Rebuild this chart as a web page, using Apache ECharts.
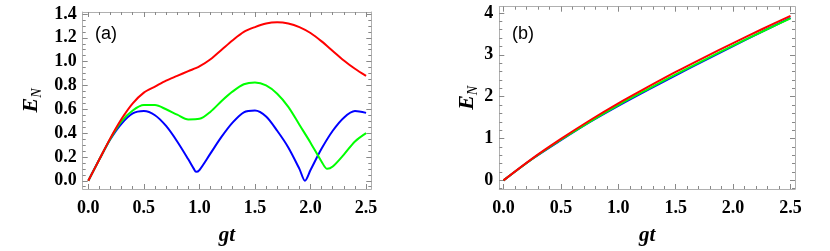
<!DOCTYPE html>
<html><head><meta charset="utf-8">
<script src="https://cdn.jsdelivr.net/npm/echarts@6/dist/echarts.min.js"></script>
<style>html,body{margin:0;padding:0;background:#fff}#c{width:830px;height:251px}</style>
</head><body><div id="c"></div>
<script>
// ---- data: panel (a) ----
const xBlueA = [0,0.1,0.2,0.3,0.4,0.5,0.6,0.7,0.8,0.9,0.95,0.97,1.0,1.1,1.2,1.3,1.4,1.5,1.6,1.7,1.8,1.9,1.95,2.0,2.1,2.2,2.3,2.4,2.5];
const yBlueA = [0,0.18,0.35,0.48,0.565,0.585,0.55,0.46,0.33,0.18,0.10,0.075,0.09,0.23,0.37,0.49,0.575,0.59,0.54,0.42,0.28,0.10,0.0,0.09,0.27,0.42,0.53,0.585,0.57];
const xGreenA = [0,0.1,0.2,0.3,0.4,0.5,0.6,0.7,0.8,0.9,1.0,1.1,1.2,1.3,1.4,1.5,1.6,1.7,1.8,1.9,2.0,2.1,2.15,2.2,2.3,2.4,2.5];
const yGreenA = [0,0.18,0.355,0.50,0.59,0.635,0.635,0.60,0.555,0.515,0.52,0.58,0.67,0.75,0.81,0.825,0.80,0.73,0.62,0.47,0.32,0.16,0.10,0.12,0.22,0.33,0.40];
const xRedA = [0,0.1,0.2,0.3,0.4,0.5,0.6,0.7,0.8,0.9,1.0,1.1,1.2,1.3,1.4,1.5,1.6,1.7,1.8,1.9,2.0,2.1,2.2,2.3,2.4,2.5];
const yRedA = [0,0.18,0.36,0.52,0.65,0.74,0.79,0.84,0.88,0.92,0.96,1.02,1.10,1.18,1.25,1.29,1.32,1.33,1.32,1.29,1.24,1.17,1.09,1.01,0.94,0.88];
// ---- data: panel (b) ----
const xB = [0,0.25,0.5,0.75,1.0,1.25,1.5,1.75,2.0,2.25,2.5];
const yBlueB = [0,0.51,0.96,1.39,1.78,2.15,2.51,2.86,3.21,3.55,3.88];
const yGreenB = [0,0.51,0.97,1.40,1.80,2.17,2.53,2.88,3.22,3.55,3.87];
const yRedB = [0,0.52,0.99,1.43,1.84,2.22,2.59,2.94,3.28,3.61,3.93];
// ---- tick labels ----
const xTickLabels = ['0.0','0.5','1.0','1.5','2.0','2.5'];
const yTickLabelsA = ['0.0','0.2','0.4','0.6','0.8','1.0','1.2','1.4'];
const yTickLabelsB = ['0','1','2','3','4'];

function range(a, b, s){ const r=[]; for(let v=a; v<=b+1e-9; v+=s) r.push(+v.toFixed(4)); return r; }
const pairs = (xs, ys) => xs.map((x,i)=>[x, ys[i]]);

const frameCol = '#b0b0b0', tickCol = '#888';
const labelFont = {fontFamily:'Liberation Serif', fontWeight:'bold', fontSize:18, color:'#000'};

function axesFor(kind, grid, min, max, majorVals, minorVals, labels, opts){
  const isX = kind === 'x';
  const posA = isX ? 'bottom' : 'left', posB = isX ? 'top' : 'right';
  const base = {type:'value', gridIndex:grid, min:min, max:max, splitLine:{show:false}, animation:false};
  const mk = (pos, vals, len, withLabels, line) => Object.assign({}, base, {
    position: pos,
    axisLine:{show:line, onZero:false, lineStyle:{color:frameCol, width:1}},
    axisTick:{show:true, inside:true, length:len, customValues:vals, lineStyle:{color:tickCol, width:1}},
    axisLabel: withLabels ? Object.assign({show:true, customValues:majorVals, margin: isX?10:6,
        formatter:(v)=>{ const i = majorVals.findIndex(m=>Math.abs(m-v)<1e-6); return i>=0?labels[i]:''; }}, labelFont)
      : {show:false},
    name: withLabels ? opts.name : '',
    nameLocation:'middle', nameGap: opts.nameGap, nameRotate: isX?0:90,
    nameTextStyle: opts.nameStyle
  });
  return [
    mk(posA, majorVals, 5, true, true),
    mk(posA, minorVals, 3, false, false),
    mk(posB, majorVals, 5, false, true),
    mk(posB, minorVals, 3, false, false)
  ];
}

const gtStyle = {fontFamily:'Liberation Serif', fontStyle:'italic', fontWeight:'bold', fontSize:21, color:'#000'};
const enStyle = {color:'#000', rich:{
  e:{fontFamily:'Liberation Serif', fontStyle:'italic', fontWeight:'bold', fontSize:22, lineHeight:24, verticalAlign:'top'},
  n:{fontFamily:'Liberation Serif', fontStyle:'italic', fontSize:14, lineHeight:24, verticalAlign:'bottom', padding:[8,0,0,0]}
}};

const xMajor = [0,0.5,1.0,1.5,2.0,2.5];
const xMinor = range(0,2.5,0.1);
const yMajorA = [0,0.2,0.4,0.6,0.8,1.0,1.2,1.4];
const yMinorA = range(-0.05,1.4,0.05);
const yMajorB = [0,1,2,3,4];
const yMinorB = range(-0.2,4.0,0.2);

const xAxes = [
  ...axesFor('x',0,-0.0504,2.547,xMajor,xMinor,xTickLabels,{name:'gt',nameGap:36,nameStyle:gtStyle}),
  ...axesFor('x',1,-0.0366,2.539,xMajor,xMinor,xTickLabels,{name:'gt',nameGap:36,nameStyle:gtStyle})
];
const yAxes = [
  ...axesFor('y',0,-0.069,1.4165,yMajorA,yMinorA,yTickLabelsA,{name:'{e|E}{n|N}',nameGap:38,nameStyle:enStyle}),
  ...axesFor('y',1,-0.206,4.149,yMajorB,yMinorB,yTickLabelsB,{name:'{e|E}{n|N}',nameGap:19,nameStyle:enStyle})
];

const line = (name, data, color, xi, yi) => ({
  type:'line', name, data, xAxisIndex:xi, yAxisIndex:yi, showSymbol:false, smooth:0.3,
  lineStyle:{color, width:2}, itemStyle:{color}, animation:false, silent:true
});

const option = {
  animation:false,
  grid:[
    {left:82.7, top:12, width:288.6, height:178},
    {left:499.3, top:6.7, width:295.7, height:184}
  ],
  xAxis:xAxes, yAxis:yAxes,
  series:[
    line('blueA', pairs(xBlueA,yBlueA), '#0000ff', 0, 0),
    line('greenA', pairs(xGreenA,yGreenA), '#00ff00', 0, 0),
    line('redA', pairs(xRedA,yRedA), '#ff0000', 0, 0),
    line('blueB', pairs(xB,yBlueB), '#0000ff', 4, 4),
    line('greenB', pairs(xB,yGreenB), '#00ff00', 4, 4),
    line('redB', pairs(xB,yRedB), '#ff0000', 4, 4)
  ],
  graphic:[
    {type:'text', left:95, top:25, style:{text:'(a)', font:'18px "Liberation Sans"', fill:'#000'}},
    {type:'text', left:512, top:25, style:{text:'(b)', font:'18px "Liberation Sans"', fill:'#000'}}
  ]
};
const chart = echarts.init(document.getElementById('c'), null, {renderer:'canvas'});
chart.setOption(option);
</script></body></html>
